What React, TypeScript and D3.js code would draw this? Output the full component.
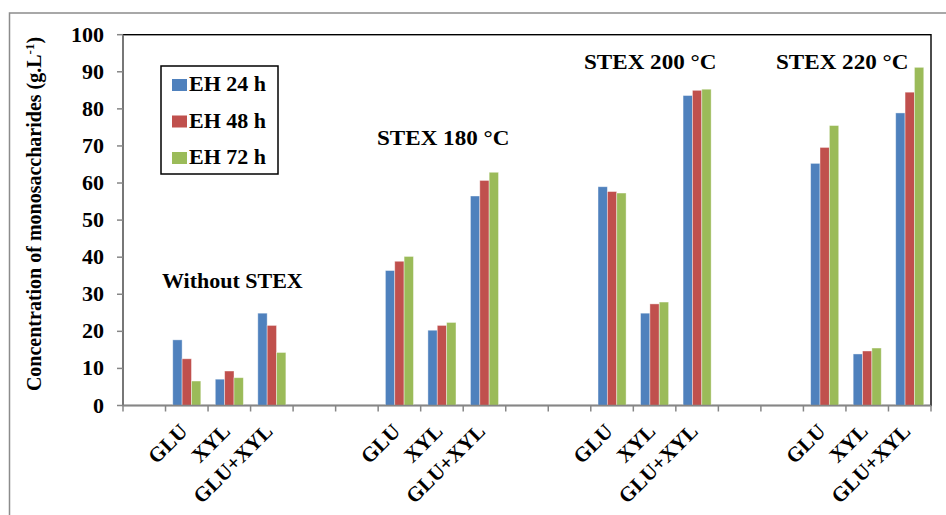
import React, { useEffect, useRef } from 'react';
import * as d3 from 'd3';

// x categories (blank slots separate the pretreatment groups)
const categories = ['', 'GLU', 'XYL', 'GLU+XYL', '', '', 'GLU', 'XYL', 'GLU+XYL', '', '', 'GLU', 'XYL', 'GLU+XYL', '', '', 'GLU', 'XYL', 'GLU+XYL'];
const seriesNames = ['EH 24 h', 'EH 48 h', 'EH 72 h'];
const eh24 = [null, 17.7, 7.1, 24.9, null, null, 36.4, 20.3, 56.5, null, null, 59.0, 24.9, 83.6, null, null, 65.3, 13.9, 78.9];
const eh48 = [null, 12.6, 9.3, 21.6, null, null, 38.9, 21.6, 60.7, null, null, 57.7, 27.4, 85.0, null, null, 69.6, 14.7, 84.5];
const eh72 = [null, 6.6, 7.5, 14.3, null, null, 40.2, 22.4, 62.9, null, null, 57.3, 27.9, 85.3, null, null, 75.5, 15.5, 91.2];
const yTicks = [0, 10, 20, 30, 40, 50, 60, 70, 80, 90, 100];
const groupNotes = [
    { text: 'Without STEX', x: 162, y: 288, size: 20 },
    { text: 'STEX 180 °C', x: 377, y: 145, size: 21 },
    { text: 'STEX 200 °C', x: 584, y: 69, size: 21 },
    { text: 'STEX 220 °C', x: 776, y: 69, size: 21 }
];

const colors = ['#4F81BD', '#C0504D', '#9BBB59'];
const font = "'Liberation Serif', 'DejaVu Serif', 'Times New Roman', serif";

const App: React.FC = () => {
    const svgRef = useRef<SVGSVGElement | null>(null);

    useEffect(() => {
        const width = 946;
        const height = 515;
        const plot = { left: 123, right: 931, top: 34.7, bottom: 405.5 };
        const stretch = 1.1;

        const svg = d3.select(svgRef.current);
        svg.selectAll('*').remove();
        svg.attr('width', width).attr('height', height)
            .attr('font-family', font)
            .attr('font-weight', 'bold');

        svg.append('rect').attr('width', width).attr('height', height).attr('fill', '#fff');
        // outer chart frame
        svg.append('rect')
            .attr('x', 9.5).attr('y', 13)
            .attr('width', 1000).attr('height', 600)
            .attr('fill', 'none').attr('stroke', '#8c8c8c').attr('stroke-width', 1.5);

        const x = d3.scaleBand<number>()
            .domain(categories.map((_, i) => i))
            .range([plot.left, plot.right])
            .padding(0);

        const xInner = d3.scaleBand<number>()
            .domain([0, 1, 2])
            .range([x.bandwidth() * 0.17, x.bandwidth() * 0.83])
            .padding(0);

        const y = d3.scaleLinear().domain([0, 100]).range([plot.bottom, plot.top]);

        // plot area border
        svg.append('rect')
            .attr('x', plot.left).attr('y', plot.top)
            .attr('width', plot.right - plot.left).attr('height', plot.bottom - plot.top)
            .attr('fill', 'none').attr('stroke', '#000').attr('stroke-width', 1.4);

        const series = [eh24, eh48, eh72];
        series.forEach((vals, s) => {
            svg.append('g')
                .selectAll('rect')
                .data(vals.map((v, i) => ({ v, i })).filter(d => d.v !== null))
                .enter()
                .append('rect')
                .attr('x', d => (x(d.i) as number) + (xInner(s) as number))
                .attr('y', d => y(d.v as number))
                .attr('width', xInner.bandwidth())
                .attr('height', d => y(0) - y(d.v as number))
                .attr('fill', colors[s])
                .attr('stroke', '#ffffff')
                .attr('stroke-opacity', 0.5)
                .attr('stroke-width', 0.8);
        });

        const axisColor = '#868686';
        // y axis
        svg.append('line')
            .attr('x1', plot.left).attr('x2', plot.left)
            .attr('y1', plot.top).attr('y2', plot.bottom)
            .attr('stroke', axisColor).attr('stroke-width', 1.5);
        yTicks.forEach(t => {
            svg.append('line')
                .attr('x1', plot.left - 6).attr('x2', plot.left)
                .attr('y1', y(t)).attr('y2', y(t))
                .attr('stroke', axisColor).attr('stroke-width', 1.5);
            svg.append('g')
                .attr('transform', `translate(104, ${y(t)}) scale(${stretch},1)`)
                .append('text')
                .attr('text-anchor', 'end')
                .attr('dy', '0.35em')
                .attr('font-size', 20)
                .text(t);
        });

        // x axis
        svg.append('line')
            .attr('x1', plot.left).attr('x2', plot.right)
            .attr('y1', plot.bottom).attr('y2', plot.bottom)
            .attr('stroke', axisColor).attr('stroke-width', 1.5);
        d3.range(categories.length + 1).forEach(i => {
            const xx = plot.left + i * x.bandwidth();
            svg.append('line')
                .attr('x1', xx).attr('x2', xx)
                .attr('y1', plot.bottom).attr('y2', plot.bottom + 6)
                .attr('stroke', axisColor).attr('stroke-width', 1.5);
        });
        categories.forEach((c, i) => {
            if (!c) return;
            const cx = (x(i) as number) + x.bandwidth() / 2 + 2;
            svg.append('text')
                .attr('transform', `translate(${cx}, ${plot.bottom + 27}) rotate(-45)`)
                .attr('text-anchor', 'end')
                .attr('font-size', 21)
                .text(c);
        });

        // y axis title
        const title = svg.append('text')
            .attr('transform', `translate(41, 214) rotate(-90)`)
            .attr('text-anchor', 'middle')
            .attr('font-size', 20);
        title.append('tspan').text('Concentration of monosaccharides (g.L');
        title.append('tspan').attr('baseline-shift', 'super').attr('font-size', 13).text('-1');
        title.append('tspan').text(')');

        // group notes
        groupNotes.forEach(n => {
            svg.append('g')
                .attr('transform', `translate(${n.x}, ${n.y}) scale(${stretch},1)`)
                .append('text')
                .attr('font-size', n.size)
                .text(n.text);
        });

        // legend
        const legend = svg.append('g').attr('transform', 'translate(161, 66)');
        legend.append('rect')
            .attr('width', 117).attr('height', 108)
            .attr('fill', '#fff').attr('stroke', '#000').attr('stroke-width', 1.5);
        const items = legend.selectAll('.legend')
            .data(seriesNames)
            .enter()
            .append('g')
            .attr('class', 'legend')
            .attr('transform', (_, i) => `translate(11, ${13 + i * 36.5})`);
        items.append('rect')
            .attr('width', 15).attr('height', 12)
            .attr('fill', (_, i) => colors[i]);
        items.append('g')
            .attr('transform', `translate(17, 12) scale(${stretch},1)`)
            .append('text')
            .attr('font-size', 20)
            .text(d => d);
    }, []);

    return <svg ref={svgRef} style={{ position: 'absolute', left: 0, top: 0 }}></svg>;
};

export default App;
